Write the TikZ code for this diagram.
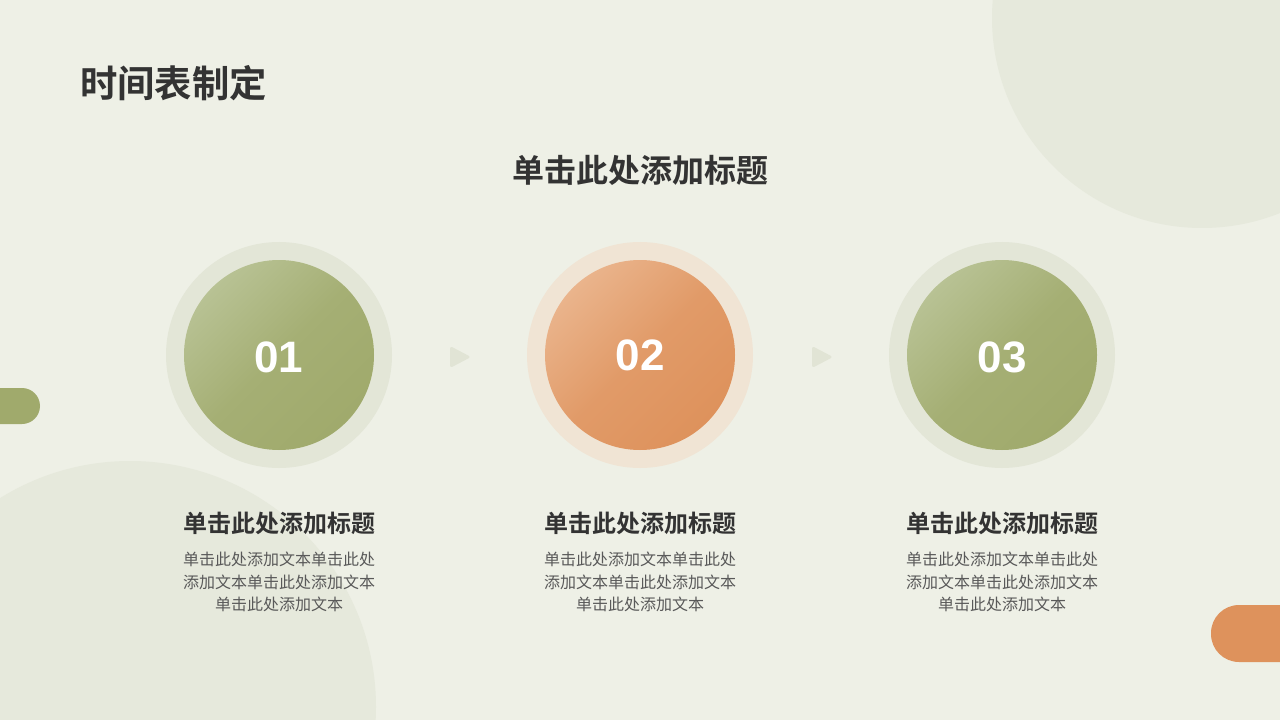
\documentclass[tikz,border=0pt]{standalone}
\usepackage{fontspec}
\setmainfont{Noto Sans CJK SC}[BoldFont={Noto Sans CJK SC Bold}]
\newfontfamily\numfont{Liberation Sans}
\usepackage{xcolor}
\usetikzlibrary{positioning,calc}
\definecolor{bgpaper}{RGB}{238,240,230}
\definecolor{bgblob}{RGB}{230,233,220}
\definecolor{sage}{RGB}{160,170,108}
\definecolor{sagelight}{RGB}{184,194,148}
\definecolor{sagering}{RGB}{227,230,215}
\definecolor{clay}{RGB}{222,146,92}
\definecolor{claylight}{RGB}{234,180,140}
\definecolor{clayring}{RGB}{240,228,212}
\definecolor{arrowtint}{RGB}{225,228,213}
\definecolor{inkdark}{RGB}{51,51,51}
\definecolor{inkgrey}{RGB}{89,89,89}
\tikzset{
  headline/.style={font=\bfseries\fontsize{28}{33}\selectfont, text=inkdark, inner sep=0pt},
  subhead/.style={font=\bfseries\fontsize{24}{28}\selectfont, text=inkdark, inner sep=0pt},
  itemhead/.style={font=\bfseries\fontsize{18}{21}\selectfont, text=inkdark, inner sep=0pt},
  itembody/.style={font=\fontsize{12}{16.9}\selectfont, text=inkgrey, align=center, inner sep=0pt},
  stepnum/.style={font=\numfont\bfseries\fontsize{33}{38}\selectfont, text=white, inner sep=0pt},
  sagedisc/.style={left color=sagelight, right color=sage, middle color=sage!80!sagelight, shading angle=45},
  claydisc/.style={left color=claylight, right color=clay, middle color=clay!75!claylight, shading angle=45}
}

\begin{document}
\begin{tikzpicture}[x=0.75pt,y=-0.75pt]
    \fill[bgpaper] (0,0) rectangle (1280,720);
    \useasboundingbox (0,0) rectangle (1280,720);
    % background blobs
    \begin{scope}
      \clip (0,0) rectangle (1280,720);
      \fill[bgblob] (1202,18) circle (210);
      \fill[bgblob] (130,707) circle (246);
      \fill[sage, rounded corners=13.5pt] (-30,388) rectangle (40,424);
      \fill[clay, rounded corners=21pt] (1211,605) rectangle (1310,662);
    \end{scope}
    % titles
    \node[headline, anchor=west] (title) at (80,83) {时间表制定};
    \node[subhead] (subtitle) at (640,170) {单击此处添加标题};
    % step circles
    \fill[sagering] (279,355) circle (113);
    \shade[sagedisc] (279,355) circle (95);
    \fill[clayring] (640,355) circle (113);
    \shade[claydisc] (640,355) circle (95);
    \fill[sagering] (1002,355) circle (113);
    \shade[sagedisc] (1002,355) circle (95);
    \node[stepnum] (num1) at (279,357) {01};
    \node[stepnum] (num2) at (640,355) {02};
    \node[stepnum] (num3) at (1002,357) {03};
    % arrows between steps
    \fill[arrowtint, rounded corners=2pt] (450,346) -- (471,357) -- (450,368) -- cycle;
    \fill[arrowtint, rounded corners=2pt] (812,346) -- (833,357) -- (812,368) -- cycle;
    % step texts
    \node[itemhead] (head1) at (279,523) {单击此处添加标题};
    \node[itemhead] (head2) at (640,523) {单击此处添加标题};
    \node[itemhead] (head3) at (1002,523) {单击此处添加标题};
    \node[itembody] (body1) at (279,582) {单击此处添加文本单击此处\\添加文本单击此处添加文本\\单击此处添加文本};
    \node[itembody] (body2) at (640,582) {单击此处添加文本单击此处\\添加文本单击此处添加文本\\单击此处添加文本};
    \node[itembody] (body3) at (1002,582) {单击此处添加文本单击此处\\添加文本单击此处添加文本\\单击此处添加文本};
  \end{tikzpicture}
\end{document}
